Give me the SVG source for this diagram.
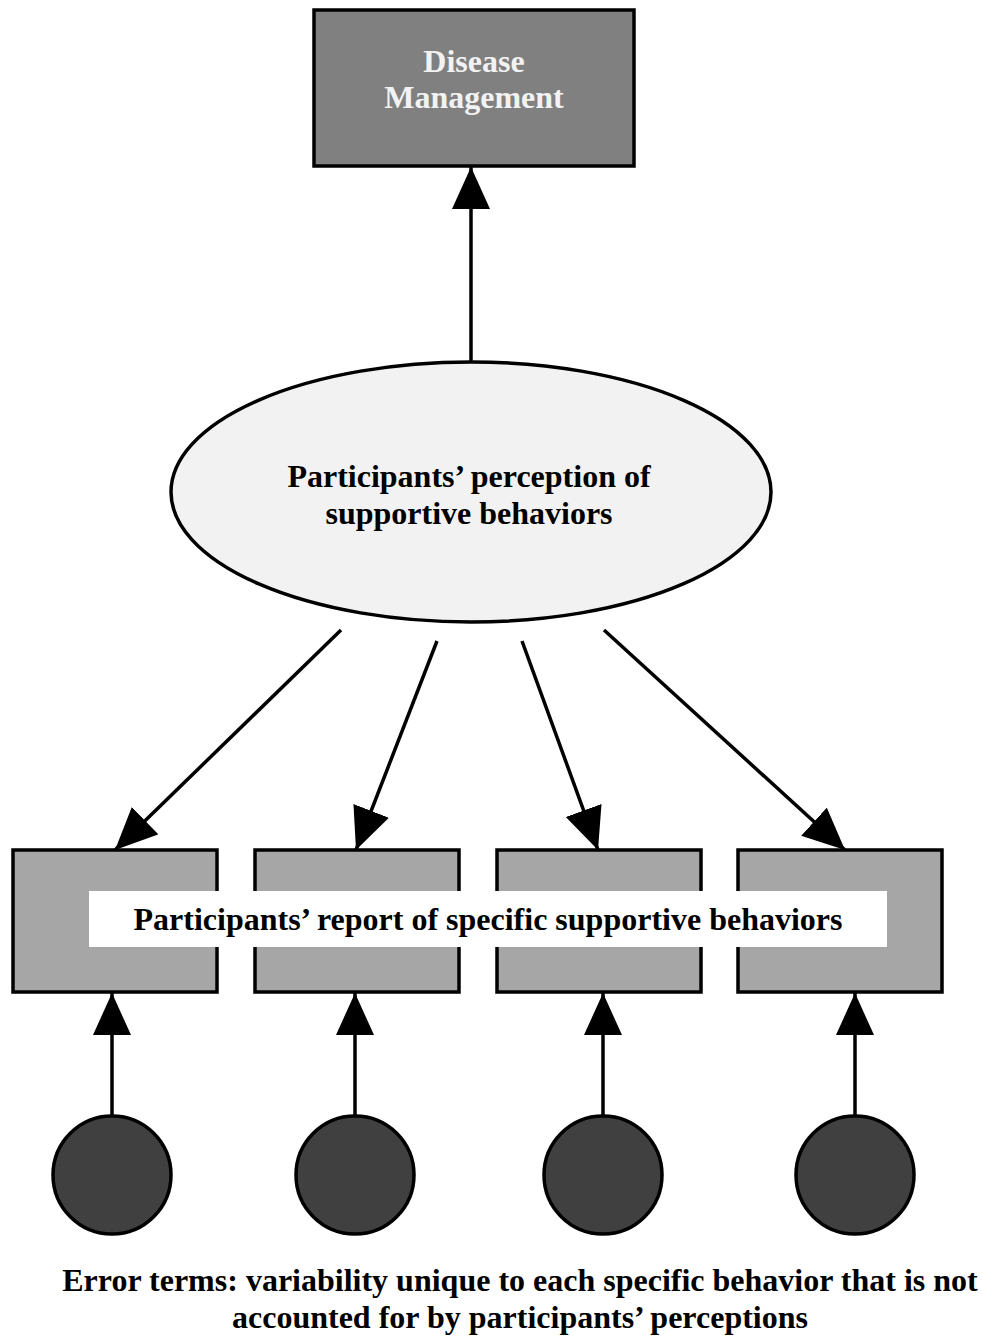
<svg xmlns="http://www.w3.org/2000/svg" width="982" height="1338" viewBox="0 0 982 1338">
<style>
.t{font-family:"Liberation Serif","Times New Roman",serif;font-weight:bold;font-size:32px;text-anchor:middle}
.box{fill:#a6a6a6;stroke:#000;stroke-width:3.5}
.err{fill:#404040;stroke:#000;stroke-width:3.5}
.c{stroke:#000;stroke-width:3.5;fill:none;marker-end:url(#ah)}
</style>
<defs>
<marker id="ah" markerUnits="userSpaceOnUse" markerWidth="44" markerHeight="40" refX="42" refY="19" orient="auto" viewBox="0 0 44 40">
<path d="M0,0 L42,19 L0,38 z" fill="#000"/>
</marker>
</defs>
<rect width="982" height="1338" fill="#fff"/>
<g id="connectors">
<line class="c" x1="471" y1="362" x2="471" y2="167"/>
<line class="c" x1="341" y1="630" x2="115" y2="850"/>
<line class="c" x1="437" y1="641" x2="356" y2="850"/>
<line class="c" x1="522" y1="641" x2="598" y2="850"/>
<line class="c" x1="604" y1="630" x2="845" y2="850"/>
<line class="c" x1="112" y1="1115" x2="112" y2="993"/>
<line class="c" x1="355" y1="1115" x2="355" y2="993"/>
<line class="c" x1="603" y1="1115" x2="603" y2="993"/>
<line class="c" x1="855" y1="1115" x2="855" y2="993"/>
</g>
<g id="disease">
<rect x="314" y="10" width="320" height="156" fill="#808080" stroke="#000" stroke-width="3.5"/>
<text class="t" x="474" y="72" fill="#f2f2f2">Disease</text>
<text class="t" x="474" y="108" fill="#f2f2f2">Management</text>
</g>
<g id="perception">
<ellipse cx="471" cy="492" rx="300" ry="130" fill="#f2f2f2" stroke="#000" stroke-width="3.5"/>
<text class="t" x="469" y="487">Participants’ perception of</text>
<text class="t" x="469" y="524">supportive behaviors</text>
</g>
<g id="item1"><rect class="box" x="13" y="850" width="204" height="142"/></g>
<g id="item2"><rect class="box" x="255" y="850" width="204" height="142"/></g>
<g id="item3"><rect class="box" x="497" y="850" width="204" height="142"/></g>
<g id="item4"><rect class="box" x="738" y="850" width="204" height="142"/></g>
<g id="report-label">
<rect x="89" y="891" width="798" height="56" fill="#fff"/>
<text class="t" x="488" y="930">Participants’ report of specific supportive behaviors</text>
</g>
<g id="error1"><circle class="err" cx="112" cy="1175" r="59"/></g>
<g id="error2"><circle class="err" cx="355" cy="1175" r="59"/></g>
<g id="error3"><circle class="err" cx="603" cy="1175" r="59"/></g>
<g id="error4"><circle class="err" cx="855" cy="1175" r="59"/></g>
<g id="error-label">
<text class="t" x="520" y="1291">Error terms: variability unique to each specific behavior that is not</text>
<text class="t" x="520" y="1328">accounted for by participants’ perceptions</text>
</g>
</svg>
